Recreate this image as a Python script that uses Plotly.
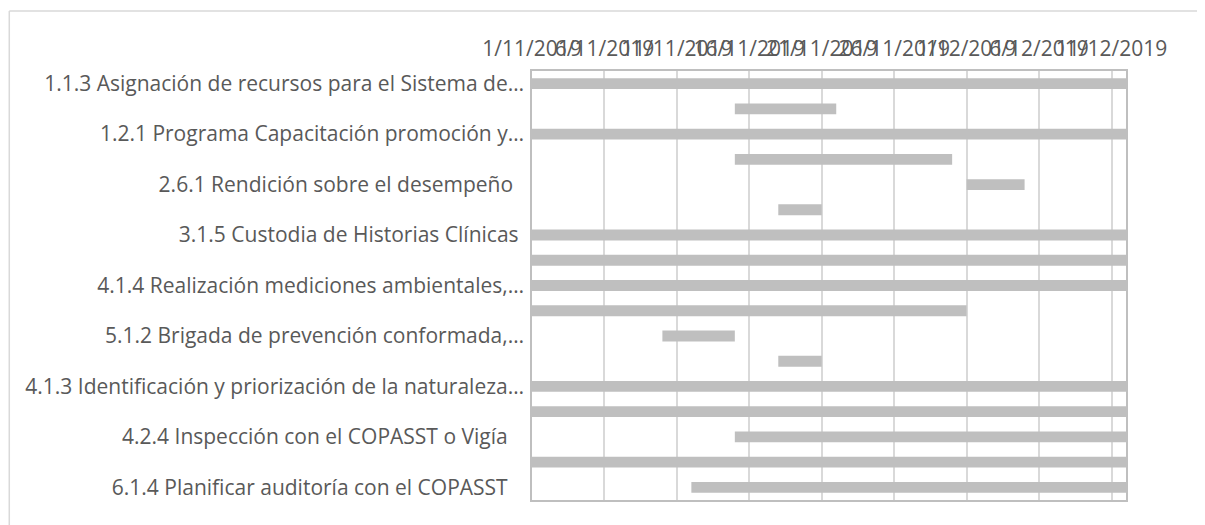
import plotly.graph_objects as go
import pandas as pd

# Task rows, top to bottom (only every other row carries a visible label)
row_index = list(range(17))
tick_rows = [0, 2, 4, 6, 8, 10, 12, 14, 16]
tick_labels = [
    "1.1.3 Asignación de recursos para el Sistema de…",
    "1.2.1 Programa Capacitación promoción y…",
    "2.6.1 Rendición sobre el desempeño\u00a0\u00a0",
    "3.1.5 Custodia de Historias Clínicas\u00a0",
    "4.1.4 Realización mediciones ambientales,…",
    "5.1.2 Brigada de prevención conformada,…",
    "4.1.3 Identificación y priorización de la naturaleza…",
    "4.2.4 Inspección con el COPASST o Vigía\u00a0\u00a0\u00a0",
    "6.1.4 Planificar auditoría con el COPASST\u00a0\u00a0\u00a0",
]
start_dates = [
    "2019-11-01", "2019-11-15", "2019-11-01", "2019-11-15", "2019-12-01",
    "2019-11-18", "2019-11-01", "2019-11-01", "2019-11-01", "2019-11-01",
    "2019-11-10", "2019-11-18", "2019-11-01", "2019-11-01", "2019-11-15",
    "2019-11-01", "2019-11-12",
]
end_dates = [
    "2019-12-12", "2019-11-22", "2019-12-12", "2019-11-30", "2019-12-05",
    "2019-11-21", "2019-12-12", "2019-12-12", "2019-12-12", "2019-12-01",
    "2019-11-15", "2019-11-21", "2019-12-12", "2019-12-12", "2019-12-12",
    "2019-12-12", "2019-12-12",
]
axis_start = "2019-11-01"
axis_end = "2019-12-12"

starts = pd.to_datetime(start_dates)
ends = pd.to_datetime(end_dates)
durations_ms = [(e - s).total_seconds() * 1000 for s, e in zip(starts, ends)]

FONT = "Open Sans"
TXT = "#595959"
FS = 21

fig = go.Figure()
fig.add_trace(go.Bar(
    y=row_index,
    x=durations_ms,
    base=start_dates,
    orientation="h",
    width=0.43,
    marker=dict(color="#bfbfbf", line=dict(width=0)),
    showlegend=False,
))

# page body has an 8px margin, so the figure is sized/positioned to compensate
fig.update_layout(
    width=1197, height=517,
    margin=dict(l=524, r=79, t=63, b=25),
    paper_bgcolor="white", plot_bgcolor="white",
    font=dict(family=FONT, size=FS, color=TXT),
    xaxis=dict(
        type="date", side="top",
        range=[axis_start, axis_end],
        tick0=axis_start, dtick=5 * 86400000,
        tickformat="%-d/%-m/%Y", tickangle=0,
        showgrid=True, gridcolor="#d9d9d9", gridwidth=1.5,
        showline=True, linecolor="#bfbfbf", linewidth=1.5, mirror=True,
        ticks="", zeroline=False,
        tickfont=dict(family=FONT, size=FS, color=TXT),
        ticklabelstandoff=5,
    ),
    yaxis=dict(
        range=[16.5, -0.5],
        tickmode="array", tickvals=tick_rows, ticktext=tick_labels,
        showgrid=False, zeroline=False,
        showline=True, linecolor="#bfbfbf", linewidth=1.5, mirror=True,
        ticks="",
        tickfont=dict(family=FONT, size=FS, color=TXT),
        ticklabelstandoff=2,
    ),
    bargap=0.57,
    shapes=[
        dict(type="line", xref="paper", yref="paper",
             x0=-0.88, x1=1.2, y0=1.14, y1=1.14,
             line=dict(color="#d9d9d9", width=1.5)),
        dict(type="line", xref="paper", yref="paper",
             x0=-0.88, x1=-0.88, y0=1.14, y1=-0.2,
             line=dict(color="#d9d9d9", width=1.5)),
    ],
)

fig.write_html("out.html")
